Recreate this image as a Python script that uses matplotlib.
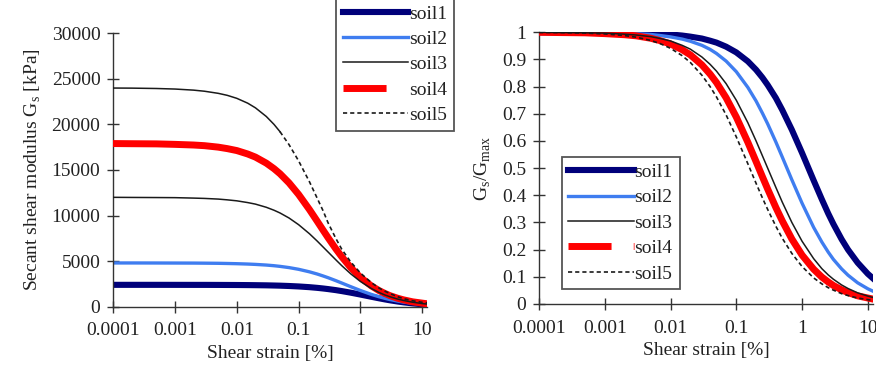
import numpy as np
import matplotlib.pyplot as plt
from matplotlib.lines import Line2D

plt.rcParams['font.family'] = ['Liberation Serif', 'DejaVu Serif']
plt.rcParams['mathtext.fontset'] = 'custom'
plt.rcParams['mathtext.rm'] = 'Liberation Serif'

# shear strain [%]
strain = [0.0001, 0.0002, 0.0005, 0.001, 0.002, 0.003, 0.005, 0.007, 0.01, 0.015,
          0.02, 0.03, 0.04, 0.05, 0.07, 0.1, 0.15, 0.2, 0.25, 0.3,
          0.4, 0.5, 0.7, 1, 1.5, 2, 2.5, 3, 4, 5,
          7, 10, 12]

# Gs/Gmax
soil1 = [1.0, 1.0, 1.0, 0.999, 0.998, 0.998, 0.996, 0.994, 0.992, 0.988,
         0.984, 0.977, 0.969, 0.962, 0.947, 0.926, 0.893, 0.862, 0.833, 0.806,
         0.758, 0.714, 0.641, 0.556, 0.455, 0.385, 0.333, 0.294, 0.238, 0.200,
         0.152, 0.111, 0.094]
soil2 = [1.0, 1.0, 0.999, 0.998, 0.997, 0.995, 0.992, 0.988, 0.983, 0.975,
         0.967, 0.952, 0.937, 0.922, 0.894, 0.855, 0.797, 0.747, 0.702, 0.663,
         0.596, 0.541, 0.457, 0.371, 0.282, 0.228, 0.191, 0.164, 0.129, 0.106,
         0.078, 0.056, 0.047]
soil3 = [1.0, 0.999, 0.998, 0.997, 0.993, 0.990, 0.984, 0.977, 0.968, 0.952,
         0.938, 0.909, 0.882, 0.857, 0.811, 0.750, 0.667, 0.600, 0.545, 0.500,
         0.429, 0.375, 0.300, 0.231, 0.167, 0.130, 0.107, 0.091, 0.070, 0.057,
         0.041, 0.029, 0.024]
soil4 = [1.0, 0.999, 0.998, 0.995, 0.991, 0.987, 0.978, 0.969, 0.957, 0.936,
         0.917, 0.880, 0.846, 0.815, 0.759, 0.688, 0.595, 0.524, 0.468, 0.423,
         0.355, 0.306, 0.239, 0.180, 0.128, 0.099, 0.081, 0.068, 0.052, 0.042,
         0.030, 0.022, 0.018]
soil5 = [0.999, 0.999, 0.997, 0.994, 0.988, 0.982, 0.970, 0.958, 0.941, 0.914,
         0.889, 0.842, 0.800, 0.762, 0.696, 0.615, 0.516, 0.444, 0.390, 0.348,
         0.286, 0.242, 0.186, 0.138, 0.096, 0.074, 0.060, 0.051, 0.038, 0.031,
         0.022, 0.016, 0.013]

# small-strain modulus Gmax [kPa], soils 1-4 on the left panel
gmax = [2400, 4800, 12000, 17900]
# soil5 secant modulus [kPa]
soil5_g = [23990, 23980, 23940, 23880, 23760, 23640, 23410, 23190, 22860, 22330,
           21820, 20870, 20000, 19200, 17780, 16000, 13700, 11900, 10500, 9200,
           7500, 6300, 4900, 3700, 2650, 2050, 1700, 1450, 1100, 880,
           650, 480, 410]

labels = ['soil1', 'soil2', 'soil3', 'soil4', 'soil5']
xticks = [0.0001, 0.001, 0.01, 0.1, 1, 10]
xticklabels = ['0.0001', '0.001', '0.01', '0.1', '1', '10']
yticks_g = [0, 5000, 10000, 15000, 20000, 25000, 30000]
yticks_r = [0, 0.1, 0.2, 0.3, 0.4, 0.5, 0.6, 0.7, 0.8, 0.9, 1]
yticklabels_r = ['0', '0.1', '0.2', '0.3', '0.4', '0.5', '0.6', '0.7', '0.8', '0.9', '1']

styles = [
    dict(color='#00007a', lw=4.4, ls='-'),
    dict(color='#3f7df0', lw=2.4, ls='-'),
    dict(color='#1a1a1a', lw=1.1, ls='-'),
    dict(color='#ff0000', lw=5.0, ls='-'),
    dict(color='#1a1a1a', lw=1.2, ls=(0, (2.5, 1.8))),
]
zorders = [2, 2, 4, 3, 5]
ratios = [soil1, soil2, soil3, soil4, soil5]

# legend handles (soil4 shows the long-dash pattern only in the legend)
handles = []
for i, st in enumerate(styles):
    if i == 3:
        handles.append(Line2D([], [], color=st['color'], lw=st['lw'], ls=(0, (6.2, 3.2))))
    else:
        handles.append(Line2D([], [], **st))

fig = plt.figure(figsize=(8.76, 3.78), dpi=100)
ax1 = fig.add_axes([0.1293, 0.1886, 0.3582, 0.7234])
ax2 = fig.add_axes([0.6153, 0.1958, 0.3813, 0.7188])

x = np.array(strain)
for i in range(4):
    g = np.array(ratios[i]) * gmax[i]
    ax1.plot(x, g, zorder=zorders[i], **styles[i])

# soil5 on the left panel: the dash pattern only shows once the curve bends
g5 = np.array(soil5_g)
flat = x <= 0.05
ax1.plot(x[flat], g5[flat], color=styles[4]['color'], lw=1.1, zorder=5)
ax1.plot(x[x >= 0.05], g5[x >= 0.05], zorder=5, **styles[4])

for i in range(5):
    ax2.plot(x, ratios[i], zorder=zorders[i], **styles[i])

for ax in (ax1, ax2):
    ax.set_xscale('log')
    ax.set_xlim(0.0001, 12)
    ax.set_xticks(xticks)
    ax.set_xticklabels(xticklabels)
    ax.minorticks_off()
    ax.spines['top'].set_visible(False)
    ax.spines['right'].set_visible(False)
    for s in ('left', 'bottom'):
        ax.spines[s].set_color('#333333')
        ax.spines[s].set_linewidth(1.0)
    ax.tick_params(direction='inout', length=8.5, width=1.0, color='#333333',
                   labelsize=14, labelcolor='#222222')
    ax.tick_params(axis='x', pad=7)
    ax.tick_params(axis='y', pad=5)
    ax.set_xlabel('Shear strain [%]', fontsize=14, color='#222222', labelpad=4)

ax1.set_ylim(0, 30000)
ax1.set_yticks(yticks_g)
ax1.set_ylabel(r'Secant shear modulus G$_\mathregular{s}$ [kPa]', fontsize=14,
               color='#222222', labelpad=6)

ax2.set_ylim(0, 1.0)
ax2.set_yticks(yticks_r)
ax2.set_yticklabels(yticklabels_r)
ax2.set_ylabel(r'G$_\mathregular{s}$/G$_\mathregular{max}$', fontsize=14,
               color='#222222', labelpad=6)

legend_kw = dict(fontsize=14, handlelength=3.35, handletextpad=0.05,
                 labelspacing=0.4, borderpad=0.35, borderaxespad=0,
                 fancybox=False, framealpha=1, edgecolor='#555555',
                 bbox_transform=fig.transFigure, loc='upper left')
leg1 = ax1.legend(handles, labels, bbox_to_anchor=(0.3836, 1.005), **legend_kw)
leg2 = ax2.legend(handles, labels, bbox_to_anchor=(0.6412, 0.5855), **legend_kw)
for leg in (leg1, leg2):
    leg.get_frame().set_linewidth(1.3)
    for t in leg.get_texts():
        t.set_color('#222222')
leg1.set_zorder(10)

fig.savefig('out.png', dpi=100, facecolor='white')
